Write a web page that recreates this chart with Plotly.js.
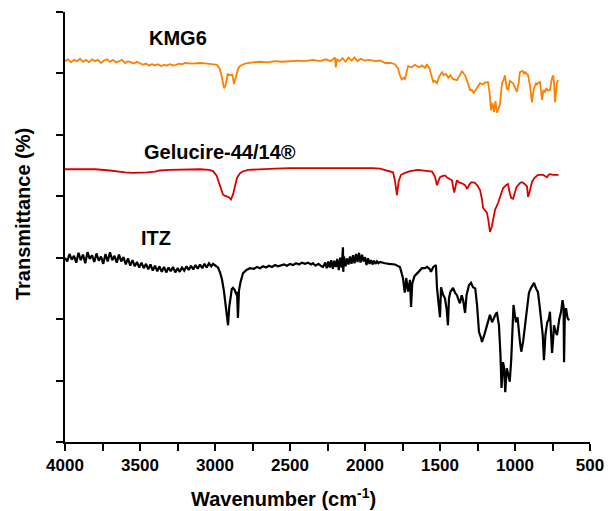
<!DOCTYPE html>
<html>
<head>
<meta charset="utf-8">
<script src="https://cdn.plot.ly/plotly-3.0.1.min.js"></script>
<style>html,body{margin:0;padding:0;background:#fff;}#chart{width:608px;height:511px;}</style>
</head>
<body>
<div id="chart"></div>
<script>
// Series names
const seriesNames = ['KMG6', 'Gelucire-44/14®', 'ITZ'];

// KMG6 spectrum (wavenumber, transmittance)
const kmgWn = [4000,3980,3960,3940,3920,3900,3880,3860,3840,3820,3800,3780,3760,3740,3720,3700,3680,3660,3640,3620,3600,3580,3560,3540,3520,3500,3480,3460,3440,3420,3400,3380,3360,3340,3320,3300,3280,3260,3240,3220,3200,3150,3100,3050,3000,2987,2970,2955,2940,2930,2915,2907,2885,2873,2860,2845,2833,2800,2750,2700,2650,2600,2550,2500,2450,2400,2350,2300,2260,2230,2210,2200,2195,2185,2170,2150,2130,2110,2090,2070,2050,2030,2000,1970,1930,1900,1867,1830,1800,1780,1767,1755,1740,1733,1720,1713,1690,1667,1640,1620,1600,1587,1570,1553,1545,1535,1520,1505,1487,1475,1460,1445,1430,1415,1400,1387,1370,1353,1340,1333,1315,1300,1287,1275,1260,1245,1233,1215,1200,1180,1170,1160,1150,1140,1130,1120,1110,1100,1087,1075,1067,1055,1045,1035,1013,1000,987,975,967,950,940,933,913,900,893,887,875,860,853,845,833,825,820,810,800,790,780,767,760,753,745,740,733,725,720,710];
const kmgT = [62.0,62.3,61.8,62.2,62.0,62.4,61.9,62.2,61.8,62.3,62.0,62.2,61.7,62.1,62.3,61.9,62.2,61.8,62.0,62.2,61.7,62.0,61.8,61.6,61.9,61.6,61.4,61.6,61.3,61.5,61.3,61.5,61.2,61.4,61.3,61.5,61.3,61.4,61.6,61.5,61.7,61.6,61.7,61.6,61.5,61.4,60.8,59.5,57.6,58.0,60.0,59.7,59.8,58.3,59.5,60.8,61.2,61.6,61.8,61.9,61.8,62.0,61.9,62.0,62.1,62.0,62.2,62.0,62.3,62.0,62.4,62.6,61.0,62.3,62.0,62.5,61.9,62.6,62.1,62.6,62.0,62.4,62.1,62.2,62.0,62.1,61.7,61.7,61.5,60.8,59.7,59.0,59.3,59.0,60.5,61.2,61.0,61.4,61.0,61.3,60.9,61.5,60.8,59.2,58.6,58.8,58.4,59.5,60.2,59.7,59.9,59.3,59.7,59.1,59.0,58.9,59.6,60.4,59.9,59.7,58.5,57.3,57.3,56.8,57.4,58.0,58.4,58.2,58.5,58.6,57.0,54.0,55.2,53.7,55.5,53.6,54.5,55.0,58.4,59.0,59.7,57.6,57.3,58.8,58.4,57.8,57.0,58.5,60.2,60.4,60.0,60.2,59.7,58.0,56.8,55.3,57.5,58.4,58.2,58.5,58.6,57.0,55.7,57.3,57.0,57.6,57.2,57.3,58.6,59.3,59.7,58.6,55.3,57.8,58.6,58.9];

// Gelucire-44/14 spectrum
const gelWn = [4000,3900,3800,3700,3650,3600,3550,3500,3450,3400,3367,3300,3200,3100,3040,3013,2990,2967,2947,2935,2920,2905,2893,2880,2865,2853,2835,2820,2780,2720,2600,2500,2400,2300,2200,2100,2000,1950,1900,1867,1830,1813,1800,1787,1775,1760,1733,1700,1647,1600,1553,1535,1520,1510,1500,1485,1467,1450,1420,1413,1405,1395,1387,1375,1360,1345,1333,1318,1305,1290,1267,1250,1233,1220,1213,1200,1187,1177,1167,1155,1145,1133,1113,1100,1080,1060,1047,1035,1025,1013,1000,990,980,965,953,935,920,913,905,887,870,847,830,813,800,787,775,767,745,720,710];
const gelT = [44.4,44.4,44.4,44.2,44.0,43.9,43.8,43.8,43.9,44.0,44.2,44.3,44.4,44.4,44.3,44.1,43.4,41.8,40.3,40.1,40.0,39.8,39.5,40.3,41.8,43.0,43.7,44.0,44.3,44.4,44.5,44.6,44.6,44.7,44.7,44.7,44.6,44.6,44.5,44.3,44.1,43.9,42.5,40.2,42.5,43.5,43.8,44.1,44.3,44.2,44.0,43.3,41.8,42.5,43.1,43.3,43.4,43.0,42.6,41.5,40.6,41.8,42.6,42.3,42.2,42.0,41.8,41.2,41.9,42.3,42.2,41.7,41.0,39.5,38.1,37.6,37.3,36.0,34.2,35.0,36.5,37.8,38.9,40.0,41.3,41.8,42.0,40.5,39.7,39.6,40.5,41.5,41.8,42.2,42.3,42.0,41.6,39.9,40.5,42.3,43.0,43.5,43.5,43.5,43.3,43.1,43.5,43.6,43.5,43.5,43.5];

// ITZ spectrum
const itzWn = [4000,3985,3970,3955,3940,3925,3910,3895,3880,3865,3850,3835,3820,3805,3790,3775,3760,3745,3730,3715,3700,3685,3670,3655,3640,3625,3610,3595,3580,3565,3550,3535,3520,3505,3490,3475,3460,3445,3430,3415,3400,3385,3370,3355,3340,3325,3310,3295,3280,3265,3250,3235,3220,3205,3190,3175,3160,3145,3130,3115,3100,3085,3070,3055,3040,3025,3013,2995,2980,2965,2953,2940,2928,2920,2913,2905,2898,2888,2880,2870,2860,2853,2847,2840,2830,2813,2790,2767,2740,2720,2700,2680,2660,2640,2620,2600,2580,2567,2540,2520,2500,2480,2460,2440,2420,2400,2380,2360,2347,2330,2310,2290,2280,2265,2255,2245,2235,2225,2215,2205,2195,2185,2175,2165,2155,2147,2145,2140,2130,2120,2110,2100,2090,2080,2070,2060,2050,2040,2030,2020,2010,2000,1990,1980,1970,1960,1950,1940,1930,1920,1910,1900,1880,1867,1840,1800,1767,1755,1747,1735,1725,1713,1700,1693,1685,1670,1653,1635,1620,1600,1587,1570,1560,1545,1527,1520,1510,1500,1493,1480,1467,1455,1447,1440,1430,1413,1400,1387,1375,1367,1355,1345,1333,1323,1307,1293,1280,1265,1253,1240,1227,1220,1205,1193,1180,1167,1153,1140,1127,1120,1107,1097,1090,1080,1073,1065,1055,1047,1035,1025,1020,1010,1000,993,983,975,967,958,945,933,920,907,893,880,873,860,847,835,827,815,807,797,785,775,767,760,753,745,740,730,720,713,705,693,683,676,673,668,660,650,640];
const itzT = [30.0,29.4,30.6,29.7,30.3,29.2,30.8,29.6,30.5,29.1,30.9,29.8,30.4,29.3,30.7,29.5,30.2,29.0,30.6,29.4,30.9,29.6,30.3,29.2,30.5,29.4,30.1,28.9,29.9,28.7,29.6,28.6,29.3,28.4,29.2,28.3,29.0,28.1,28.9,27.9,28.7,27.8,28.6,27.7,28.5,27.6,28.4,27.8,28.5,27.6,28.3,27.7,28.4,27.9,28.6,28.0,28.7,28.1,28.8,28.2,28.9,28.3,29.0,28.4,29.1,28.6,29.0,28.7,28.4,27.5,26.4,24.5,21.5,20.3,19.0,22.0,23.6,24.9,25.1,24.8,24.2,24.4,20.2,24.7,26.0,27.5,28.0,28.3,28.2,28.5,28.3,28.6,28.4,28.7,28.5,28.8,28.6,28.7,28.9,28.7,29.0,28.8,29.1,28.9,29.2,29.0,29.2,28.9,29.1,28.7,29.0,28.6,28.5,29.2,28.3,29.4,28.4,29.6,28.2,29.5,28.5,29.8,28.0,30.0,28.4,31.7,27.7,30.2,28.6,29.9,28.9,30.2,29.0,30.4,29.1,30.6,29.3,30.8,29.2,30.5,29.4,30.1,28.8,29.9,29.0,29.6,28.9,29.5,29.0,29.4,29.1,29.3,29.1,29.1,29.0,28.9,28.5,27.5,26.7,24.3,26.7,24.5,26.4,22.0,25.8,27.0,27.5,28.0,28.3,28.3,28.5,28.2,27.7,28.5,28.8,25.1,22.5,20.3,25.2,24.0,23.4,21.5,19.0,23.4,24.5,25.1,24.3,23.9,23.0,22.6,23.9,23.0,21.0,23.9,25.5,25.9,25.2,25.0,22.3,17.9,17.0,16.3,17.4,18.4,19.9,20.7,19.5,20.3,20.9,21.0,19.0,14.2,8.8,13.0,12.2,8.1,12.0,11.2,9.8,13.5,16.3,22.3,20.5,19.5,20.3,18.0,16.3,14.7,16.5,19.0,21.8,24.3,25.1,25.6,25.9,25.0,24.4,22.0,19.9,17.4,13.3,17.5,19.5,20.0,21.2,18.0,14.5,17.0,19.0,18.0,17.4,18.6,20.0,21.2,23.1,22.0,13.0,20.5,21.8,20.2,19.8];

// Axis tick values / labels
const xTickVals = [4000,3750,3500,3250,3000,2750,2500,2250,2000,1750,1500,1250,1000,750,500];
const xTickText = ['4000','','3500','','3000','','2500','','2000','','1500','','1000','','500'];
const yTickVals = [0,10,20,30,40,50,60,70];

const colors = ['#FF8000', '#D90000', '#000000'];
const FONT = '"Liberation Sans", Arial, sans-serif';

const traces = [
  {x: kmgWn, y: kmgT, name: seriesNames[0], type: 'scatter', mode: 'lines', line: {color: colors[0], width: 1.8}},
  {x: gelWn, y: gelT, name: seriesNames[1], type: 'scatter', mode: 'lines', line: {color: colors[1], width: 1.8}},
  {x: itzWn, y: itzT, name: seriesNames[2], type: 'scatter', mode: 'lines', line: {color: colors[2], width: 2.2}}
];

const labelFont = {family: FONT, size: 20, color: '#000', weight: 'bold'};

const layout = {
  width: 608, height: 511,
  margin: {l: 65, r: 18, t: 12, b: 69},
  paper_bgcolor: '#fff', plot_bgcolor: '#fff',
  showlegend: false,
  font: {family: FONT, color: '#000'},
  xaxis: {
    range: [4000, 500], showgrid: false, zeroline: false,
    showline: true, linecolor: '#000', linewidth: 2,
    ticks: 'outside', ticklen: 7, tickwidth: 2, tickcolor: '#000',
    tickmode: 'array', tickvals: xTickVals, ticktext: xTickText,
    tickfont: {family: FONT, size: 17, color: '#000', weight: 'bold'}
  },
  yaxis: {
    range: [0, 70], showgrid: false, zeroline: false,
    showline: true, linecolor: '#000', linewidth: 2,
    ticks: 'outside', ticklen: 7, tickwidth: 2, tickcolor: '#000',
    tickmode: 'array', tickvals: yTickVals, showticklabels: false
  },
  annotations: [
    {x: 3247, y: 65.8, xref: 'x', yref: 'y', text: seriesNames[0], showarrow: false, font: labelFont},
    {x: 2967, y: 47.2, xref: 'x', yref: 'y', text: seriesNames[1], showarrow: false, font: labelFont},
    {x: 3393, y: 33.2, xref: 'x', yref: 'y', text: seriesNames[2], showarrow: false, font: labelFont},
    {x: 0.417, y: -0.128, xref: 'paper', yref: 'paper', xanchor: 'center', yanchor: 'middle', text: 'Wavenumber (cm<sup>-1</sup>)', showarrow: false, font: {family: FONT, size: 20, color: '#000', weight: 'bold'}},
    {x: -0.08, y: 0.53, xref: 'paper', yref: 'paper', xanchor: 'center', yanchor: 'middle', text: 'Transmittance (%)', textangle: -90, showarrow: false, font: {family: FONT, size: 20, color: '#000', weight: 'bold'}}
  ]
};

Plotly.newPlot('chart', traces, layout, {staticPlot: true, displayModeBar: false});
</script>
</body>
</html>
